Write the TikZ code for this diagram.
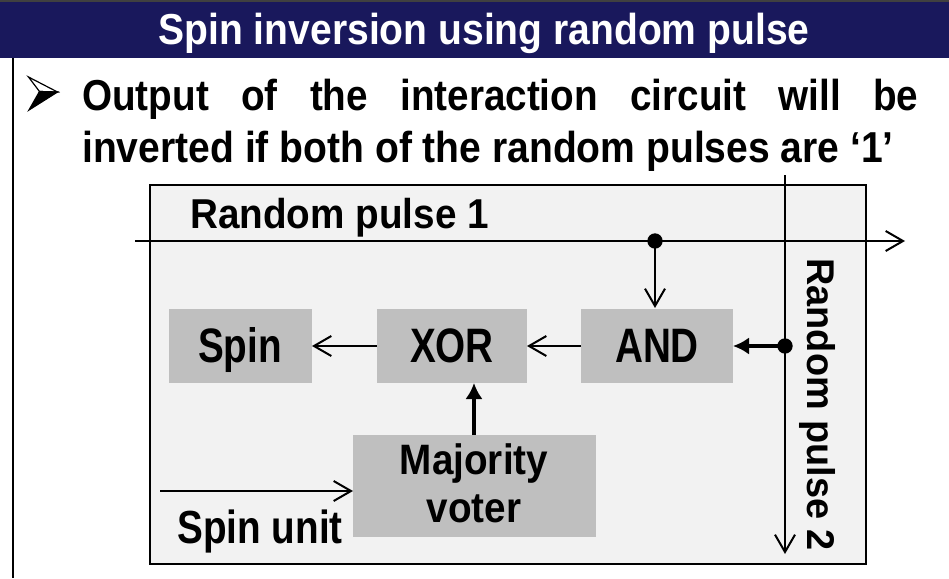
\documentclass[tikz,border=0pt]{standalone}
\usepackage{fontspec}
\setmainfont{Liberation Sans}
\usetikzlibrary{arrows.meta}
\definecolor{navy}{RGB}{25,24,92}
\definecolor{panel}{RGB}{242,242,242}
\definecolor{boxgray}{RGB}{191,191,191}
\begin{document}
\begin{tikzpicture}[x=0.75pt,y=-0.75pt,
  txt/.style={inner sep=0pt,font=\fontsize{29}{35}\selectfont\bfseries},
  gate/.style={fill=boxgray,draw=none},
  wire/.style={line width=2.1pt},
  thin/.style={line width=1.6pt},
  heavy/.style={line width=3.2pt},
  openarr/.style={-{Straight Barb[length=13pt,width=15pt,line width=1.5pt]}},
  fillarr/.style={-{Latex[length=12pt,width=13pt]}},
  dotst/.style={circle,fill=black,inner sep=0pt,minimum size=11.5pt}]
\useasboundingbox (0,0) rectangle (949,578);
% title bar
\fill[navy] (0,0) rectangle (949,58);
\draw[line width=1.5pt,black!75] (0,1) -- (949,1);
\draw[line width=1pt] (13,58) -- (13,578);
\node[txt,text=white,anchor=base] (title) at (484,44) {\scalebox{1.01}[1.12]{Spin inversion using random pulse}};
% bullet
\coordinate (bA) at (28.5,77);
\coordinate (bT) at (57.5,92);
\coordinate (bB) at (29,110);
\coordinate (bI) at (39.5,91.5);
\filldraw[fill=white,line width=0.9pt,line join=miter] (bA) -- (bT) -- (bI) -- cycle;
\filldraw[fill=black,line width=0.9pt,line join=miter] (bI) -- (bT) -- (bB) -- cycle;
\node[txt,anchor=base west] (line1) at (82,110) {\scalebox{1}[1.12]{\makebox[627pt][s]{Output of the interaction circuit will be}}};
\node[txt,anchor=base west] (line2) at (82,162) {\scalebox{1.01}[1.12]{inverted if both of the random pulses are ‘1’}};
% panel
\draw[fill=panel,line width=0.8pt] (150,185) rectangle (866,564);
% boxes
\path[gate] (169,309) rectangle (312,383);
\path[gate] (377,309) rectangle (527,383);
\path[gate] (581,309) rectangle (733,383);
\path[gate] (353,435) rectangle (596,537);
\coordinate (spinE) at (312,346);
\coordinate (xorW) at (377,346);
\coordinate (xorE) at (527,346);
\coordinate (xorS) at (474,383);
\coordinate (andW) at (581,346);
\coordinate (andE) at (733,346);
\coordinate (andN) at (655,308);
\coordinate (majN) at (474,435);
\coordinate (majW) at (353,491);
\node[txt,anchor=base] (spin) at (240,362) {\scalebox{1}[1.25]{Spin}};
\node[txt,anchor=base] (xor) at (452,362) {\scalebox{1}[1.25]{XOR}};
\node[txt,anchor=base] (and) at (657,362) {\scalebox{1}[1.25]{AND}};
\node[txt,anchor=center,font=\fontsize{29}{32.7}\selectfont\bfseries] (maj) at (474,489) {\scalebox{1}[1.1]{\begin{tabular}{@{}c@{}}Majority\\voter\end{tabular}}};
% labels
\node[txt,anchor=base west] (rp1) at (190,228) {\scalebox{1}[1.08]{Random pulse 1}};
\node[txt,anchor=base west,rotate=-90] (rp2) at (807,258) {\scalebox{0.98}[1]{Random pulse 2}};
\node[txt,anchor=base west] (su) at (177,543) {\scalebox{1}[1.2]{Spin unit}};
% wires
\coordinate (rp1s) at (135,241);
\coordinate (rp1e) at (905,241);
\coordinate (rp2s) at (785,175);
\coordinate (rp2e) at (785,554);
\coordinate (sus) at (160,491);
\draw[wire,openarr] (rp1s) -- (rp1e);
\draw[wire,openarr] (rp2s) -- (rp2e);
\node[dotst] (d1) at (655,241) {};
\node[dotst] (d2) at (785,346) {};
\draw[thin,openarr] (d1.center) -- (andN);
\draw[heavy,fillarr] (d2.center) -- (andE);
\draw[thin,openarr] (andW) -- (xorE);
\draw[thin,openarr] (xorW) -- (spinE);
\draw[heavy,fillarr] (majN) -- (xorS);
\draw[thin,openarr] (sus) -- (majW);
\end{tikzpicture}
\end{document}
